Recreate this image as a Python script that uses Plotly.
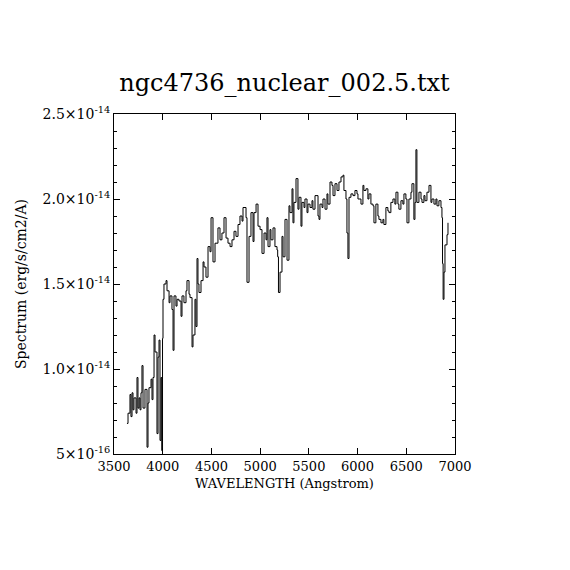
import numpy as np
import plotly.graph_objects as go

# Wavelength (Angstrom) and flux (units of 1e-14 erg/s/cm2/A)
wavelength = [
    3633, 3644, 3664, 3674, 3685, 3695, 3705, 3726, 3736, 3746, 3757, 3767, 3777, 3787,
    3798, 3818, 3839, 3849, 3859, 3880, 3890, 3900, 3911, 3921, 3941, 3952, 3962, 3972,
    3982, 3990, 3998, 4003, 4013, 4034, 4044, 4065, 4075, 4095, 4106, 4116, 4136, 4147,
    4167, 4188, 4198, 4218, 4239, 4249, 4270, 4280, 4301, 4311, 4331, 4341, 4352, 4362,
    4372, 4393, 4414, 4424, 4444, 4465, 4485, 4496, 4516, 4537, 4567, 4588, 4608, 4629,
    4650, 4670, 4691, 4711, 4732, 4752, 4773, 4793, 4814, 4824, 4855, 4865, 4886, 4906,
    4927, 4937, 4958, 4978, 4999, 5019, 5040, 5060, 5070, 5081, 5101, 5111, 5132, 5152,
    5173, 5180, 5188, 5204, 5224, 5235, 5255, 5276, 5296, 5306, 5327, 5337, 5347, 5368,
    5388, 5399, 5419, 5429, 5450, 5460, 5481, 5491, 5512, 5532, 5542, 5563, 5594, 5604,
    5614, 5635, 5645, 5666, 5686, 5696, 5717, 5737, 5748, 5768, 5789, 5809, 5830, 5850,
    5860, 5881, 5891, 5901, 5912, 5932, 5953, 5973, 5994, 6004, 6035, 6055, 6065, 6086,
    6106, 6117, 6137, 6158, 6168, 6188, 6209, 6219, 6240, 6260, 6270, 6291, 6311, 6322,
    6342, 6363, 6383, 6394, 6414, 6424, 6445, 6465, 6476, 6496, 6507, 6527, 6548, 6558,
    6578, 6589, 6599, 6609, 6630, 6651, 6661, 6681, 6692, 6712, 6733, 6753, 6763, 6784,
    6804, 6815, 6835, 6856, 6866, 6872, 6878, 6887, 6897, 6918, 6928,
]
flux = [
    0.68, 0.74, 0.85, 0.72, 0.86, 0.76, 0.83, 0.74, 0.95, 0.77, 0.83, 0.76, 0.86, 1.02,
    0.77, 0.88, 0.54, 0.80, 0.89, 0.94, 0.82, 0.95, 1.20, 1.10, 0.62, 1.07, 1.17, 0.58,
    0.95, 0.52, 1.18, 1.41, 1.50, 1.52, 1.46, 1.39, 1.43, 1.35, 1.11, 1.43, 1.37, 1.41,
    1.40, 1.31, 1.43, 1.39, 1.46, 1.52, 1.44, 1.42, 1.13, 1.20, 1.41, 1.25, 1.65, 1.50,
    1.45, 1.52, 1.63, 1.60, 1.54, 1.72, 1.69, 1.89, 1.63, 1.74, 1.83, 1.76, 1.80, 1.89,
    1.77, 1.74, 1.72, 1.76, 1.81, 1.78, 1.85, 1.90, 1.87, 1.95, 1.89, 1.51, 1.78, 1.92,
    1.75, 1.92, 1.97, 1.84, 1.82, 1.68, 1.80, 1.76, 1.89, 1.72, 1.82, 1.76, 1.83, 1.72,
    1.70, 1.66, 1.45, 1.57, 1.78, 1.66, 1.88, 1.64, 1.96, 1.92, 2.06, 1.86, 1.98, 2.12,
    1.94, 2.01, 1.84, 1.98, 1.95, 2.00, 1.92, 1.97, 1.95, 1.99, 1.94, 2.02, 1.90, 1.88,
    1.97, 1.95, 2.00, 1.94, 2.03, 1.97, 2.10, 2.08, 2.02, 2.09, 2.05, 2.10, 2.13, 2.14,
    2.05, 2.00, 1.80, 1.65, 2.01, 2.03, 2.02, 2.05, 2.03, 2.00, 1.97, 2.08, 2.05, 2.06,
    2.00, 2.03, 1.97, 1.96, 1.86, 1.97, 1.90, 1.88, 1.86, 1.88, 1.85, 1.95, 1.93, 1.92,
    1.98, 2.00, 1.97, 2.04, 1.97, 1.94, 1.99, 1.97, 2.03, 2.00, 1.86, 2.00, 2.04, 2.09,
    1.88, 1.98, 2.29, 1.98, 2.04, 2.00, 1.98, 2.02, 1.99, 2.04, 2.08, 1.98, 2.00, 1.97,
    2.00, 1.96, 1.99, 1.95, 1.89, 1.62, 1.41, 1.57, 1.73, 1.79, 1.86,
]
flux_scale = 1e-14

x_ticks = [3500, 4000, 4500, 5000, 5500, 6000, 6500, 7000]
y_tick_vals = [0.5, 1.0, 1.5, 2.0, 2.5]
y_tick_text = ["5×10<sup>-16</sup>", "1.0×10<sup>-14</sup>", "1.5×10<sup>-14</sup>",
               "2.0×10<sup>-14</sup>", "2.5×10<sup>-14</sup>"]

title_text = "ngc4736_nuclear_002.5.txt"
x_title = "WAVELENGTH (Angstrom)"
y_title = "Spectrum (erg/s/cm2/A)"

FONT = "DejaVu Serif"

y = np.array(flux) * flux_scale

fig = go.Figure()
fig.add_trace(go.Scatter(
    x=wavelength, y=y, mode="lines",
    line=dict(color="black", width=1, shape="hv"),
    showlegend=False, hoverinfo="skip",
))

fig.update_layout(
    width=570, height=570,
    margin=dict(l=106, r=123, t=106, b=124),
    paper_bgcolor="white", plot_bgcolor="white",
    font=dict(family=FONT, color="black", size=12),
    title=dict(text=title_text, x=(106 + 447) / 2 / 570, xanchor="center",
               y=1 - 75 / 570, yanchor="middle",
               font=dict(family=FONT, size=24, color="black")),
)
fig.update_xaxes(
    range=[3500, 7000], tickvals=x_ticks, ticks="inside", ticklen=6, tickcolor="black",
    showline=True, linecolor="black", linewidth=1, mirror="ticks",
    showgrid=False, zeroline=False,
    tickfont=dict(family=FONT, size=13),
    title=dict(text=x_title, font=dict(family=FONT, size=13), standoff=6),
)
fig.update_yaxes(
    range=[0.5 * flux_scale, 2.5 * flux_scale],
    tickvals=[v * flux_scale for v in y_tick_vals], ticktext=y_tick_text,
    ticks="inside", ticklen=6, tickcolor="black",
    minor=dict(ticks="inside", ticklen=3, dtick=0.1 * flux_scale, tickcolor="black", showgrid=False),
    showline=True, linecolor="black", linewidth=1, mirror="ticks",
    showgrid=False, zeroline=False,
    tickfont=dict(family=FONT, size=14),
    title=dict(text=y_title, font=dict(family=FONT, size=14), standoff=12),
)

fig.write_html("out.html")
